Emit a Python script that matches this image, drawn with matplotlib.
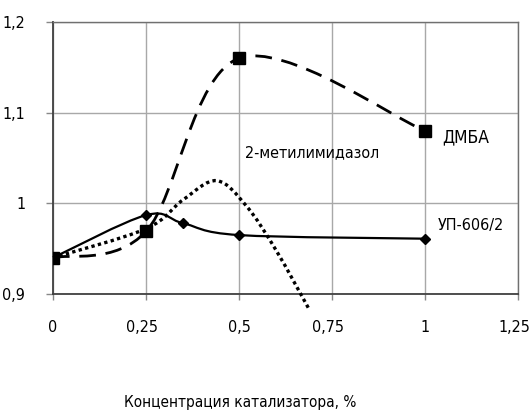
import os
import matplotlib
matplotlib.use("Agg")
import matplotlib.pyplot as plt
from matplotlib.path import Path
from matplotlib.patches import PathPatch
from matplotlib import font_manager
from matplotlib.transforms import ScaledTranslation

# ДМБА (dashed, squares)
dmba_x = [0, 0.25, 0.5, 1.0]
dmba_y = [0.94, 0.969, 1.160, 1.080]

# УП-606/2 (solid, diamonds)
up_x = [0, 0.25, 0.35, 0.5, 1.0]
up_y = [0.94, 0.987, 0.978, 0.965, 0.961]

# 2-метилимидазол (dotted, no markers)
mim_x = [0, 0.25, 0.35, 0.44, 0.52, 0.6, 0.69]
mim_y = [0.94, 0.972, 1.004, 1.025, 0.997, 0.948, 0.882]

x_ticks = [0, 0.25, 0.5, 0.75, 1.0, 1.25]
x_labels = ["0", "0,25", "0,5", "0,75", "1", "1,25"]
y_ticks = [0.9, 1.0, 1.1, 1.2]
y_labels = ["0,9", "1", "1,1", "1,2"]

# look for a narrow face (the original uses Arial Narrow)
narrow_path = None
for want in ["LiberationSansNarrow-Regular.ttf", "DejaVuSansCondensed.ttf"]:
    for f in font_manager.fontManager.ttflist:
        if os.path.basename(f.fname) == want:
            narrow_path = f.fname
            break
    if narrow_path:
        break


def fp(size):
    if narrow_path:
        return font_manager.FontProperties(fname=narrow_path, size=size)
    return font_manager.FontProperties(family="Liberation Sans", size=size - 0.5)


def smooth_path(xs, ys):
    """Excel-like smoothed line as a cubic Bezier path through the points."""
    pts = list(zip(xs, ys))
    verts = [pts[0]]
    codes = [Path.MOVETO]
    for i in range(len(pts) - 1):
        p0 = pts[i - 1] if i > 0 else pts[i]
        p1 = pts[i]
        p2 = pts[i + 1]
        p3 = pts[i + 2] if i + 2 < len(pts) else pts[i + 1]
        c1 = (p1[0] + (p2[0] - p0[0]) / 6, p1[1] + (p2[1] - p0[1]) / 6)
        c2 = (p2[0] - (p3[0] - p1[0]) / 6, p2[1] - (p3[1] - p1[1]) / 6)
        verts += [c1, c2, p2]
        codes += [Path.CURVE4] * 3
    return Path(verts, codes)


fig = plt.figure(figsize=(5.32, 4.11), dpi=100)
ax = fig.add_axes([53 / 532, 1 - 294 / 411, 465 / 532, 272 / 411])

ax.set_xlim(0, 1.25)
ax.set_ylim(0.9, 1.2)
ax.set_xticks(x_ticks)
ax.set_xticklabels(x_labels, fontproperties=fp(11.5))
ax.set_yticks(y_ticks)
ax.set_yticklabels(y_labels, fontproperties=fp(11.5))
ax.tick_params(axis='x', length=4, width=1, color='#888888', pad=15)
ax.tick_params(axis='y', length=5, width=1, color='#888888', pad=15)
ax.grid(True, color='#a8a8a8', linewidth=1.0)
ax.set_axisbelow(True)
for side in ['top', 'right']:
    ax.spines[side].set_color('#707070')
    ax.spines[side].set_linewidth(1.0)
for side in ['left', 'bottom']:
    ax.spines[side].set_color('#404040')
    ax.spines[side].set_linewidth(1.3)

# the quarter labels sit a little left of their gridline in the original
shift = ScaledTranslation(-0.04, 0, fig.dpi_scale_trans)
for lab in ax.get_xticklabels():
    if lab.get_text() in ("0,25", "0,75", "1,25"):
        lab.set_transform(lab.get_transform() + shift)

ax.add_patch(PathPatch(smooth_path(mim_x, mim_y), fill=False, ec='black',
                       lw=2.4, ls=(0, (1, 1)), clip_on=False, zorder=3))
ax.add_patch(PathPatch(smooth_path(dmba_x, dmba_y), fill=False, ec='black',
                       lw=2.0, ls=(0, (6, 3.5)), zorder=3))
ax.add_patch(PathPatch(smooth_path(up_x, up_y), fill=False, ec='black',
                       lw=1.6, zorder=3))

ax.plot(up_x, up_y, ls='none', marker='D', markersize=5.5, color='black', zorder=4)
ax.plot(dmba_x, dmba_y, ls='none', marker='s', markersize=9, color='black', zorder=5)

ax.text(1.046, 1.0725, "ДМБА", fontproperties=fp(12.5), va='center', ha='left')
ax.text(1.035, 0.976, "УП-606/2", fontproperties=fp(11.5), va='center', ha='left')
ax.text(0.516, 1.056, "2-метилимидазол", fontproperties=fp(11.5), va='center', ha='left')

fig.text(240 / 532, 1 - 402 / 411, "Концентрация катализатора, %",
         fontproperties=fp(11), ha='center', va='center')

fig.savefig("out.png", dpi=100)
plt.close(fig)
